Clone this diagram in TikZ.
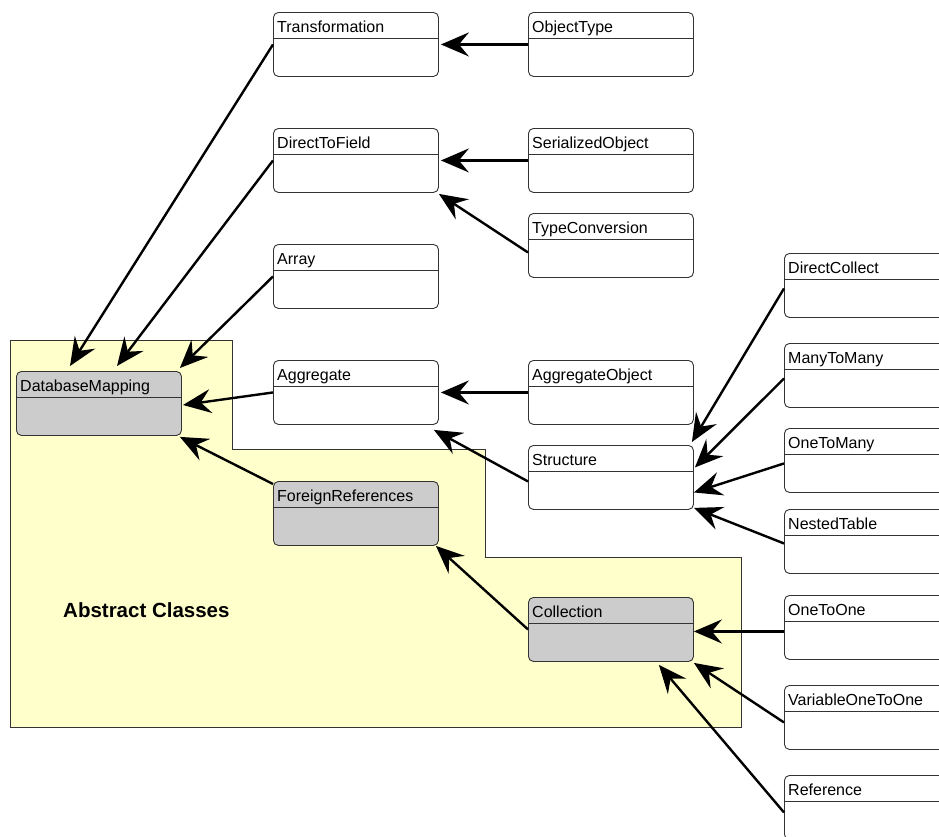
\documentclass[tikz,border=0pt]{standalone}
\usepackage{fontspec}
\setmainfont{Liberation Sans}
\usetikzlibrary{arrows.meta,calc}
\definecolor{absyellow}{HTML}{FFFFCC}
\definecolor{absgray}{HTML}{CCCCCC}
\definecolor{edgegray}{HTML}{333333}
\begin{document}
\begin{tikzpicture}[x=1pt,y=-1pt,
  cls/.style={draw=edgegray, line width=0.9pt, rounded corners=5pt,
    minimum width=165pt, minimum height=64pt, inner sep=0pt, anchor=north west, fill=white,
    path picture={\draw[edgegray,line width=0.9pt]
      ([yshift=-26pt]path picture bounding box.north west) --
      ([yshift=-26pt]path picture bounding box.north east);}},
  abscls/.style={cls, fill=absgray},
  lbl/.style={label={[anchor=base west, xshift=4pt, yshift=-20pt, inner sep=0pt,
    font=\fontsize{16}{19}\selectfont]north west:#1}},
  conn/.style={line width=2.4pt, -{Stealth[length=28pt,width=24pt,inset=10pt]}},
  region/.style={draw=edgegray, fill=absyellow, line width=0.9pt},
]
\useasboundingbox (0,0) rectangle (939,836);
\clip (0,0) rectangle (939,836);
\fill[white] (0,0) rectangle (939,836);

% abstract region
\draw[region] (10,340) -- (232,340) -- (232,449) -- (485,449) -- (485,557)
  -- (741,557) -- (741,727) -- (10,727) -- cycle;
\node[anchor=base west, inner sep=0pt, font=\bfseries\fontsize{20.5}{24}\selectfont]
  (abstitle) at (63,617) {Abstract Classes};

% classes
\node[cls, lbl=Transformation] (trans) at (273,12) {};
\node[cls, lbl=ObjectType] (objtype) at (528,12) {};
\node[cls, lbl=DirectToField] (dtf) at (273,128) {};
\node[cls, lbl=SerializedObject] (serobj) at (528,128) {};
\node[cls, lbl=TypeConversion] (typeconv) at (528,213) {};
\node[cls, lbl=Array] (array) at (273,244) {};
\node[abscls, lbl=DatabaseMapping] (dm) at (16,371) {};
\node[cls, lbl=Aggregate] (agg) at (273,360) {};
\node[cls, lbl=AggregateObject] (aggobj) at (528,360) {};
\node[cls, lbl=Structure] (struct) at (528,445) {};
\node[abscls, lbl=ForeignReferences] (fr) at (273,481) {};
\node[abscls, lbl=Collection] (coll) at (528,597) {};
\node[cls, lbl=DirectCollect] (dircoll) at (784,253) {};
\node[cls, lbl=ManyToMany] (m2m) at (784,343) {};
\node[cls, lbl=OneToMany] (o2m) at (784,428) {};
\node[cls, lbl=NestedTable] (nested) at (784,509) {};
\node[cls, lbl=OneToOne] (o2o) at (784,595) {};
\node[cls, lbl=VariableOneToOne] (v2o) at (784,685) {};
\node[cls, lbl=Reference] (ref) at (784,775) {};

% connectors
\draw[conn] (trans.west) -- ($(dm.north west)+(54,-5)$);
\draw[conn] (dtf.west) -- ($(dm.north west)+(101,-5)$);
\draw[conn] (array.west) -- ($(dm.north east)+(-2,-3)$);
\draw[conn] (agg.west) -- ($(dm.north west)+(167,34)$);
\draw[conn] ($(fr.north west)+(0,3)$) -- ($(dm.south east)+(-2,1)$);
\draw[conn] (objtype.west) -- ($(trans.east)+(2,0)$);
\draw[conn] (serobj.west) -- ($(dtf.east)+(2,0)$);
\draw[conn] ($(typeconv.west)+(0,7)$) -- ($(dtf.south east)+(0,1)$);
\draw[conn] (aggobj.west) -- ($(agg.east)+(2,0)$);
\draw[conn] ($(struct.west)+(0,4)$) -- ($(agg.south east)+(-5,5)$);
\draw[conn] (coll.west) -- ($(fr.south east)+(-3,0)$);
\draw[conn] ($(dircoll.west)+(0,3)$) -- ($(struct.north east)+(-2,-3)$);
\draw[conn] ($(m2m.west)+(0,3)$) -- ($(struct.east)+(1,-10)$);
\draw[conn] ($(o2m.west)+(0,3)$) -- ($(struct.east)+(0,15)$);
\draw[conn] ($(nested.west)+(0,2)$) -- ($(struct.south east)+(0,-2)$);
\draw[conn] ($(o2o.west)+(0,4)$) -- ($(coll.east)+(0,2)$);
\draw[conn] ($(v2o.west)+(0,5)$) -- ($(coll.south east)+(0,1)$);
\draw[conn] ($(ref.west)+(0,5)$) -- ($(coll.south east)+(-35,3)$);
\end{tikzpicture}
\end{document}
